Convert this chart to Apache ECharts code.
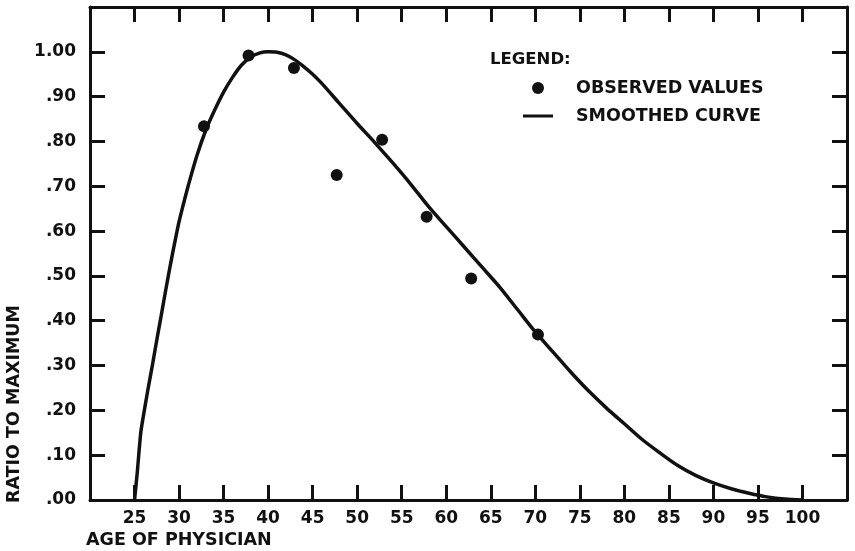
<!DOCTYPE html>
<html lang="en">
<head>
    <meta charset="UTF-8"/>
    <title>ratio to maximum</title>
    <script src="https://cdn.jsdelivr.net/npm/echarts@6/dist/echarts.min.js"></script>
</head>
<body style="margin:0;background:#fff">
<div id="main" style="width:855px;height:551px;"></div>

<script type="text/javascript">
    // observed values (dots)
    var ageObserved = [32.8, 37.8, 42.9, 47.7, 52.8, 57.8, 62.8, 70.3];
    var ratioObserved = [0.834, 0.992, 0.964, 0.725, 0.804, 0.632, 0.494, 0.369];

    // smoothed curve
    var ageCurve = [25, 25.3, 25.7, 26, 26.5, 27, 27.5, 28, 28.5, 29, 29.5, 30, 30.5, 31, 32, 33, 34, 35, 36, 37, 38, 39, 40, 41, 42, 43, 44, 45, 46,
        48, 50, 52, 54, 56, 58, 60, 62, 64, 66, 68, 70, 72, 74, 76, 78, 80, 82, 84, 86, 88, 90, 92, 94, 96, 98, 100];
    var ratioCurve = [0, 0.06, 0.15, 0.188, 0.246, 0.30, 0.357, 0.412, 0.468, 0.522, 0.573, 0.621, 0.661, 0.699, 0.768, 0.825, 0.87, 0.91, 0.943, 0.97, 0.988, 0.997, 1.0, 0.999, 0.993, 0.982, 0.967, 0.95, 0.93,
        0.885, 0.84, 0.797, 0.752, 0.705, 0.655, 0.61, 0.565, 0.52, 0.475, 0.425, 0.375, 0.33, 0.285, 0.243, 0.205, 0.17, 0.135, 0.105, 0.077, 0.055, 0.038, 0.025, 0.015, 0.007, 0.002, 0];

    var FONT = 'DejaVu Sans';
    var INK = '#111';

    function pairs(xs, ys) {
        var out = [];
        for (var i = 0; i < xs.length; i++) out.push([xs[i], ys[i]]);
        return out;
    }

    var myChart = echarts.init(document.getElementById('main'));

    var frameLine = {show: true, onZero: false, lineStyle: {color: INK, width: 3}};
    var frameTick = {show: true, inside: true, length: 15, lineStyle: {color: INK, width: 3}};

    // a thin bar inside a 30x12 box, so the legend does not stretch it
    var dashIcon = 'path://M0,0 L0.05,0 L0,0.05 Z M0,4.5 L30,4.5 L30,7.5 L0,7.5 Z M30,12 L29.95,12 L30,11.95 Z';

    var option = {
        backgroundColor: '#fff',
        animation: false,
        grid: {left: 90, right: 8, top: 7, bottom: 51},
        legend: {
            orient: 'vertical',
            left: 518,
            top: 74,
            itemWidth: 30,
            itemHeight: 12,
            itemGap: 10,
            textStyle: {fontFamily: FONT, fontWeight: 'bold', fontSize: 17.5, color: INK, lineHeight: 16, padding: [0, 0, 0, 18]},
            data: [
                {name: 'OBSERVED VALUES', icon: 'circle'},
                {name: 'SMOOTHED CURVE', icon: dashIcon}
            ]
        },
        graphic: [
            {
                type: 'text', left: 490, top: 51,
                style: {text: 'LEGEND:', fontFamily: FONT, fontWeight: 'bold', fontSize: 16.5, fill: INK}
            },
            {
                type: 'text', x: 14, y: 404, rotation: Math.PI / 2,
                style: {text: 'RATIO TO MAXIMUM', fontFamily: FONT, fontWeight: 'bold', fontSize: 17.5, fill: INK,
                    align: 'center', verticalAlign: 'middle'}
            },
            {
                type: 'text', left: 86, top: 531,
                style: {text: 'AGE OF PHYSICIAN', fontFamily: FONT, fontWeight: 'bold', fontSize: 17.5, fill: INK}
            }
        ],
        xAxis: [
            {
                type: 'value', min: 20, max: 105, interval: 5,
                axisLine: frameLine, axisTick: frameTick, splitLine: {show: false},
                axisLabel: {
                    margin: 10, fontFamily: FONT, fontWeight: 'bold', fontSize: 17, color: INK,
                    formatter: function (v) { return (v < 25 || v > 100) ? '' : String(v); }
                }
            },
            {
                type: 'value', position: 'top', min: 20, max: 105, interval: 5,
                axisLine: frameLine, axisTick: frameTick, splitLine: {show: false},
                axisLabel: {show: false}
            }
        ],
        yAxis: [
            {
                type: 'value', min: 0, max: 1.1, interval: 0.1,
                axisLine: frameLine, axisTick: frameTick, splitLine: {show: false},
                axisLabel: {
                    margin: 14, fontFamily: FONT, fontWeight: 'bold', fontSize: 17, color: INK,
                    formatter: function (v) {
                        if (v > 1.05) return '';
                        var s = v.toFixed(2);
                        return s.charAt(0) === '0' ? s.slice(1) : s;
                    }
                }
            },
            {
                type: 'value', position: 'right', min: 0, max: 1.1, interval: 0.1,
                axisLine: frameLine, axisTick: frameTick, splitLine: {show: false},
                axisLabel: {show: false}
            }
        ],
        series: [
            {
                name: 'OBSERVED VALUES',
                type: 'scatter',
                symbol: 'circle',
                symbolSize: 12,
                itemStyle: {color: INK, opacity: 1},
                data: pairs(ageObserved, ratioObserved),
                z: 3
            },
            {
                name: 'SMOOTHED CURVE',
                type: 'line',
                smooth: 0.3,
                symbol: 'none',
                lineStyle: {color: INK, width: 3.5},
                itemStyle: {color: INK},
                data: pairs(ageCurve, ratioCurve),
                z: 2
            }
        ]
    };
    myChart.setOption(option);
</script>
</body>
</html>
